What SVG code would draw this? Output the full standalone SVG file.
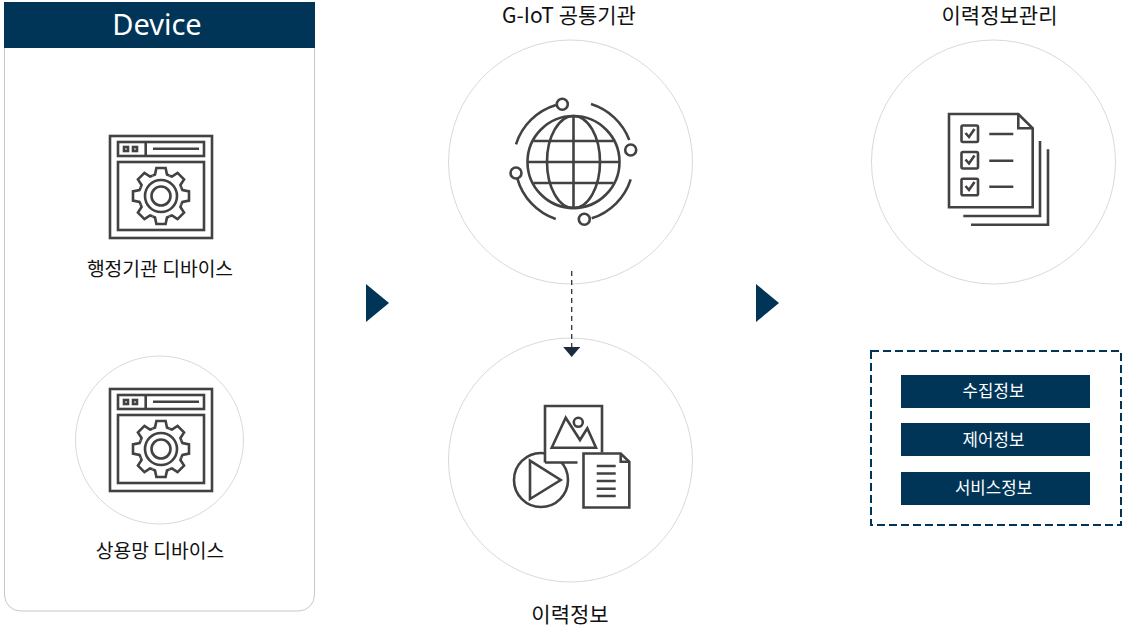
<svg xmlns="http://www.w3.org/2000/svg" xmlns:xlink="http://www.w3.org/1999/xlink" width="1130" height="631" viewBox="0 0 1130 631">
<style>
text{font-family:"Noto Sans CJK KR","Noto Sans",sans-serif;text-anchor:middle;fill:#111}
.t{font-size:21px}
.l{font-size:19.300px}
.ring{fill:#fff;stroke:#d9d9d9;stroke-width:1}
.i{fill:none;stroke:#444141;stroke-width:2.600;stroke-linecap:butt;stroke-linejoin:miter}
.w{fill:#fff;stroke:#444141;stroke-width:2.600}
.bar{fill:#003558}
.bt{fill:#fff;font-size:16.800px}
</style>
<defs>
<marker id="ah" markerWidth="10" markerHeight="17" refX="0" refY="8.500" orient="auto" markerUnits="userSpaceOnUse" viewBox="0 0 10 17"><path d="M0 0L10 8.500L0 17Z" fill="#1c2c3f"/></marker>
<g id="tooth"><path d="M-8.400-20.300L-6-21.500L-4.600-28H4.600L6-21.500L8.400-20.300" class="i"/></g>
<g id="app">
<rect x="110" y="136" width="102" height="102" class="i"/>
<rect x="118" y="142" width="86" height="14" class="i"/>
<path d="M145.700 142V156M153 148.700H199" class="i"/>
<rect x="124" y="147" width="4" height="4" class="i"/>
<rect x="133" y="147" width="4" height="4" class="i"/>
<rect x="118" y="162" width="86" height="68" class="i"/>
<g transform="translate(161 196)">
<use xlink:href="#tooth"/><use xlink:href="#tooth" transform="rotate(45)"/><use xlink:href="#tooth" transform="rotate(90)"/><use xlink:href="#tooth" transform="rotate(135)"/><use xlink:href="#tooth" transform="rotate(180)"/><use xlink:href="#tooth" transform="rotate(225)"/><use xlink:href="#tooth" transform="rotate(270)"/><use xlink:href="#tooth" transform="rotate(315)"/>
<circle r="16" class="i"/><circle r="9.500" class="i"/>
</g>
</g>
</defs>

<g id="device-panel">
<rect x="4.500" y="20" width="310" height="591" rx="16" fill="#fff" stroke="#c8c8c8"/>
<rect x="4" y="2" width="311" height="46" class="bar"/>
<text x="157" y="35" style="font-family:'Noto Sans',sans-serif;fill:#fff;font-size:29px">Device</text>
</g>
<g id="gov-device">
<use xlink:href="#app"/>
<text x="160" y="276" class="l">행정기관 디바이스</text>
</g>
<g id="commercial-device">
<circle cx="159.500" cy="440" r="84" class="ring"/>
<use xlink:href="#app" y="253"/>
<text x="160" y="558" class="l">상용망 디바이스</text>
</g>

<g id="giot">
<text x="569" y="23" class="t">G-IoT 공통기관</text>
<circle cx="570.500" cy="162" r="122" class="ring"/>
<g class="i">
<circle cx="573.500" cy="162" r="46"/>
<ellipse cx="573.500" cy="162" rx="26.500" ry="46"/>
<path d="M573.500 116V208M527.500 162H619.500M533.500 141H613.500M533.500 183H613.500"/>
<path d="M516 144.300A60 60 0 0 1 556 105M591 104A60 60 0 0 1 629.300 140M630.700 179.300A60 60 0 0 1 591.700 218.300M555.700 219A60 60 0 0 1 517.300 178.300"/>
<circle cx="562.300" cy="104.300" r="5.500"/>
<circle cx="630.700" cy="150" r="5.500"/>
<circle cx="584.300" cy="219.300" r="5.500"/>
<circle cx="516" cy="173" r="5.500"/>
</g>
</g>

<g id="history">
<circle cx="570.500" cy="460" r="122" class="ring"/>
<circle cx="541" cy="480" r="27" class="i"/>
<rect x="545" y="406" width="57" height="56.500" fill="#fff"/>
<path d="M545 462.500V406H602V452.500M545 462.500H577.500" class="i"/>
<path d="M530 460.700V499L560.700 480Z" class="i"/>
<path d="M551.700 447.700L565.700 417.700L580 440L587.300 428.300L596 447.700Z" class="i"/>
<circle cx="578.300" cy="422.300" r="4.500" class="i"/>
<path d="M583.500 453.500H620.700L629.300 461.700V507.500H583.500Z" class="w"/>
<path d="M620.700 453.500V461.700H629.300M596.700 466H615.700M596.700 473.500H615.700M596.700 481H615.700M596.700 488.700H615.700M596.700 496H615.700" class="i"/>
<text x="570" y="622" class="t">이력정보</text>
</g>

<g id="history-mgmt">
<text x="999.500" y="23" class="t">이력정보관리</text>
<circle cx="993.500" cy="162" r="122" class="ring"/>
<g class="i">
<path d="M949 114H1018.300L1032.700 128.300V207.300H949Z"/>
<path d="M1018.300 114V128.300H1032.700M963.300 216H1040V141M971 224.700H1048V149.300"/>
<rect x="961.500" y="125.500" width="16.500" height="16.500" rx="1.500"/>
<rect x="961.500" y="152" width="16.500" height="16.500" rx="1.500"/>
<rect x="961.500" y="178.700" width="16.500" height="16.500" rx="1.500"/>
<path d="M965.500 133L969 137L974.500 129M965.500 159.500L969 163.500L974.500 155.500M965.500 186L969 190L974.500 182M989.300 134H1013.300M989.300 160.700H1013.300M989.300 186.700H1013.300"/>
</g>
</g>

<g id="info-box">
<rect x="871" y="351" width="250" height="174" fill="none" stroke="#003558" stroke-width="2" stroke-dasharray="8 4"/>
<rect x="901" y="375" width="189" height="33" class="bar"/>
<text x="993.500" y="397" class="bt">수집정보</text>
<rect x="901" y="423" width="189" height="33" class="bar"/>
<text x="993.500" y="446" class="bt">제어정보</text>
<rect x="901" y="472" width="189" height="33" class="bar"/>
<text x="993.500" y="494" class="bt">서비스정보</text>
</g>

<g id="connectors">
<path d="M366 284L389 303L366 322Z" class="bar"/>
<path d="M756 284L779 303L756 322Z" class="bar"/>
<path d="M571.700 271V347" fill="none" stroke="#333" stroke-width="1.300" stroke-dasharray="5 4" marker-end="url(#ah)"/>
</g>
</svg>
